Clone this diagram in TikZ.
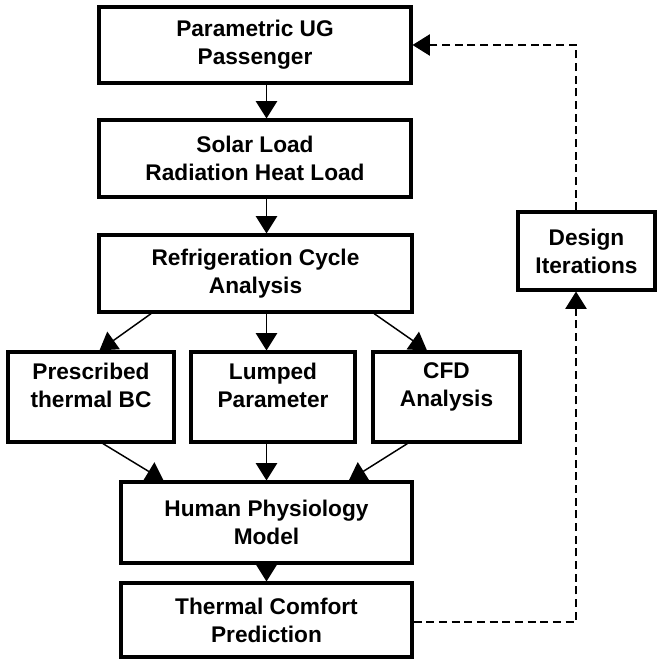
\documentclass[tikz,border=0pt]{standalone}
\usepackage{fontspec}
\setmainfont{Liberation Sans}
\usepackage{tikz}
\usetikzlibrary{calc,arrows.meta,positioning}

\begin{document}
\begin{tikzpicture}[x=0.75pt, y=-0.75pt,
  box/.style={draw, line width=2.3pt, align=center, inner sep=0pt,
    font=\fontsize{17}{21}\selectfont\bfseries},
  flow/.style={line width=1.1pt, -{Triangle[length=13pt,width=16pt]}},
  loop/.style={line width=0.9pt, dash pattern=on 6pt off 3.5pt,
    -{Triangle[length=13pt,width=16pt]}}]
\useasboundingbox (0,0) rectangle (657,659);

% main chain
\node[box, minimum width=234pt, minimum height=57pt] (ug) at (255,45) {Parametric UG\\Passenger};
\node[box, minimum width=234pt, minimum height=57.75pt] (solar) at (255,158.5) {Solar Load\\Radiation Heat Load};
\node[box, minimum width=234.75pt, minimum height=57.75pt] (refr) at (255.5,273.5) {Refrigeration Cycle\\Analysis};

% three models
\node[box, minimum width=124.5pt, minimum height=67.5pt, text depth=18pt] (bc) at (91,397) {Prescribed\\thermal BC};
\node[box, minimum width=123pt, minimum height=67.5pt, text depth=18pt] (lump) at (273,397) {Lumped\\Parameter};
\node[box, minimum width=110.25pt, minimum height=67.5pt, text depth=18pt] (cfd) at (446.5,397) {CFD\\Analysis};

\node[box, minimum width=218.25pt, minimum height=60.75pt] (human) at (266.5,522.5) {Human Physiology\\Model};
\node[box, minimum width=218.25pt, minimum height=55.5pt] (comfort) at (266.5,620) {Thermal Comfort\\Prediction};

\node[box, minimum width=102.75pt, minimum height=58.5pt] (design) at (586.5,251) {Design\\Iterations};

\draw[flow] (ug.south -| human) -- (solar.north -| human);
\draw[flow] (solar.south -| human) -- (refr.north -| human);
\draw[flow] ($(refr.south west)!0.17!(refr.south east)$) -- ($(bc.north west)!0.55!(bc.north east)$);
\draw[flow] (refr.south -| human) -- (lump.north -| human);
\draw[flow] ($(refr.south west)!0.875!(refr.south east)$) -- ($(cfd.north west)!0.37!(cfd.north east)$);
\draw[flow] ($(bc.south west)!0.57!(bc.south east)$) -- ($(human.north west)!0.15!(human.north east)$);
\draw[flow] (lump.south -| human) -- (human.north);
\draw[flow] ($(cfd.south west)!0.24!(cfd.south east)$) -- ($(human.north west)!0.78!(human.north east)$);
\draw[flow] (human.south) -- (comfort.north);

% feedback loop
\coordinate (back) at (576,45);
\draw[loop] (comfort.east |- 0,622) -| (design.south -| back);
\draw[loop] (design.north -| back) |- (ug.east);
\end{tikzpicture}
\end{document}
